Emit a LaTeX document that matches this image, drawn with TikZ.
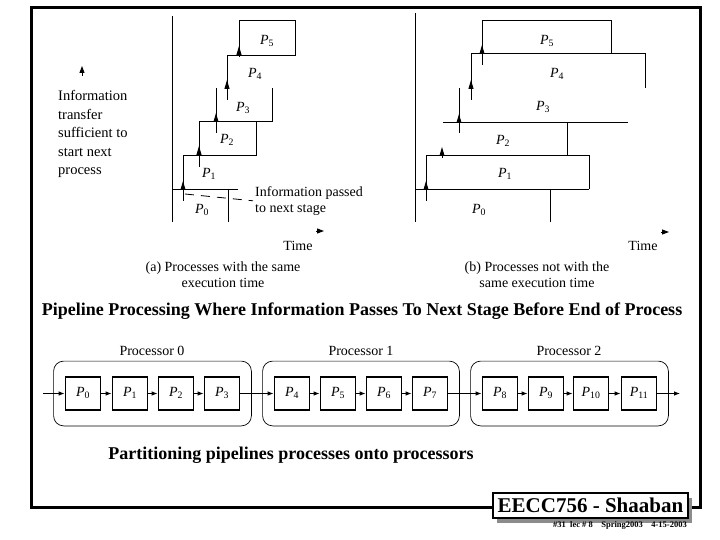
\documentclass[tikz,border=0pt]{standalone}
\usepackage{fontspec}
\setmainfont{Liberation Serif}
\usepackage{tikz}
\usetikzlibrary{arrows.meta,positioning,fit,shadows}
\newcommand{\pp}[1]{\textit{P}\textsubscript{#1}}

\begin{document}
\begin{tikzpicture}[
  x=1pt, y=-1pt,
  every node/.style={font=\fontsize{14}{16}\selectfont},
  ln/.style={line width=0.9pt},
  tip/.style={-{Triangle[length=9pt,width=5pt]}, line width=0.9pt},
  tipsm/.style={-{Triangle[length=7pt,width=5pt]}, line width=0.9pt},
  lead/.style={line width=0.8pt, dash pattern=on 9pt off 7pt, shorten >=2pt},
  pbox/.style={draw, line width=1.8pt, minimum width=35pt, minimum height=33pt,
               inner sep=0pt, text height=10pt, text depth=4pt},
  grp/.style={draw, line width=0.7pt, rounded corners=10pt,
              inner xsep=11pt, inner ysep=15pt},
  flow/.style={-{Latex[length=6pt,width=4.5pt]}, line width=0.8pt},
  head/.style={font=\bfseries\fontsize{18}{20}\selectfont},
  tag/.style={draw, fill=white, line width=1.6pt, minimum width=195pt,
              minimum height=25pt, inner sep=0pt,
              font=\bfseries\fontsize{21}{21}\selectfont,
              drop shadow={shadow xshift=4pt, shadow yshift=-5pt,
                           fill=black!45, opacity=1}},
]
\useasboundingbox (0,0) rectangle (720,540);
\fill[white] (0,0) rectangle (720,540);
\draw[line width=3pt] (31.5,7.5) rectangle (700.5,507);

\draw[ln] (172,16) -- (172,222);
\draw[ln] (172,189) -- (238,189);
\draw[ln] (228,189) -- (228,222);
\draw[ln] (183,189) -- (183,155) -- (256,155) -- (256,121);
\draw[ln] (199,155) -- (199,121) -- (272,121) -- (272,88);
\draw[ln] (216,121) -- (216,88);
\draw[ln] (227,88) -- (227,55) -- (295,55) -- (295,20) -- (239,20) -- (239,55);
\draw[tip] (183,201) -- (183,181);
\draw[tip] (199,167) -- (199,146);
\draw[tip] (216,133) -- (216,113);
\draw[tip] (227,100) -- (227,80);
\draw[tip] (239,57) -- (239,46);

\node (a0) at (202,210) {\pp{0}};
\node (a1) at (209,174) {\pp{1}};
\node (a2) at (227,140) {\pp{2}};
\node (a3) at (243,108) {\pp{3}};
\node (a4) at (255,74)  {\pp{4}};
\node (a5) at (267,41)  {\pp{5}};

\draw[ln] (415,13) -- (415,222);
\draw[ln] (415,189) -- (589,189);
\draw[ln] (550,189) -- (550,222);
\draw[ln] (426,189) -- (426,155) -- (589,155) -- (589,189);
\draw[ln] (567,155) -- (567,122);
\draw[ln] (443,122) -- (628,122);
\draw[ln] (459,88) -- (459,122);
\draw[ln] (471,88) -- (471,53) -- (645,53) -- (645,88);
\draw[ln] (482,53) -- (482,20) -- (611,20) -- (611,53);
\draw[tip] (426,201) -- (426,181);
\draw[tip] (442,158) -- (442,147);
\draw[tip] (459,133) -- (459,114);
\draw[tip] (471,100) -- (471,80);
\draw[tip] (482,65) -- (482,45);

\node (b0) at (479,210) {\pp{0}};
\node (b1) at (505,174) {\pp{1}};
\node (b2) at (503,141) {\pp{2}};
\node (b3) at (543,107) {\pp{3}};
\node (b4) at (557,74)  {\pp{4}};
\node (b5) at (547,41)  {\pp{5}};

\draw[tipsm] (82,76) -- (82,66);
\node[align=left, anchor=west, inner sep=0pt, font=\fontsize{14.5}{18.5}\selectfont]
  (info) at (58,134) {Information\\transfer\\sufficient to\\start next\\process};
\node[align=left, anchor=west, inner sep=0pt] (pass) at (255,201)
  {Information passed\\to next stage};
\coordinate (src) at (185,194);
\draw[lead] (src) -- (pass.west);

\draw[tipsm] (316,231) -- (324,231);
\draw[tipsm] (661,232) -- (669,232);
\node (ta) at (298,246) {Time};
\node (tb) at (643,246) {Time};
\node[align=center] (capa) at (223,275) {(a) Processes with the same\\execution time};
\node[align=center] (capb) at (537,275) {(b) Processes not with the\\same execution time};

\node[head] (title) at (362,311)
  {Pipeline Processing Where Information Passes To Next Stage Before End of Process};

\node[pbox] (p0)  at (83,393.5)  {\pp{0}};
\node[pbox] (p1)  at (130,393.5) {\pp{1}};
\node[pbox] (p2)  at (176,393.5) {\pp{2}};
\node[pbox] (p3)  at (222,393.5) {\pp{3}};
\node[pbox] (p4)  at (292,393.5) {\pp{4}};
\node[pbox] (p5)  at (338,393.5) {\pp{5}};
\node[pbox] (p6)  at (384,393.5) {\pp{6}};
\node[pbox] (p7)  at (430,393.5) {\pp{7}};
\node[pbox] (p8)  at (500,393.5) {\pp{8}};
\node[pbox] (p9)  at (546,393.5) {\pp{9}};
\node[pbox] (p10) at (591,393.5) {\pp{10}};
\node[pbox] (p11) at (639,393.5) {\pp{11}};

\node[grp, fit=(p0)(p3)]  (g0) {};
\node[grp, fit=(p4)(p7)]  (g1) {};
\node[grp, fit=(p8)(p11)] (g2) {};
\node (l0) at (152,351) {Processor 0};
\node (l1) at (361,351) {Processor 1};
\node (l2) at (569,351) {Processor 2};

\coordinate (in)  at (43,393.5);
\coordinate (out) at (680,393.5);
\draw[flow] (in) -- (p0);
\draw[flow] (p0) -- (p1);
\draw[flow] (p1) -- (p2);
\draw[flow] (p2) -- (p3);
\draw[flow] (p3) -- (p4);
\draw[flow] (p4) -- (p5);
\draw[flow] (p5) -- (p6);
\draw[flow] (p6) -- (p7);
\draw[flow] (p7) -- (p8);
\draw[flow] (p8) -- (p9);
\draw[flow] (p9) -- (p10);
\draw[flow] (p10) -- (p11);
\draw[flow] (p11) -- (out);

\node[head] (part) at (291,455) {Partitioning pipelines processes onto processors};

\node[tag] (eecc) at (590.5,505.5) {EECC756 - Shaaban};
\node[font=\bfseries\fontsize{8.5}{8.5}\selectfont] (foot) at (620,525)
  {\#31\ \ lec \# 8\quad Spring2003\quad 4-15-2003};
\end{tikzpicture}
\end{document}
